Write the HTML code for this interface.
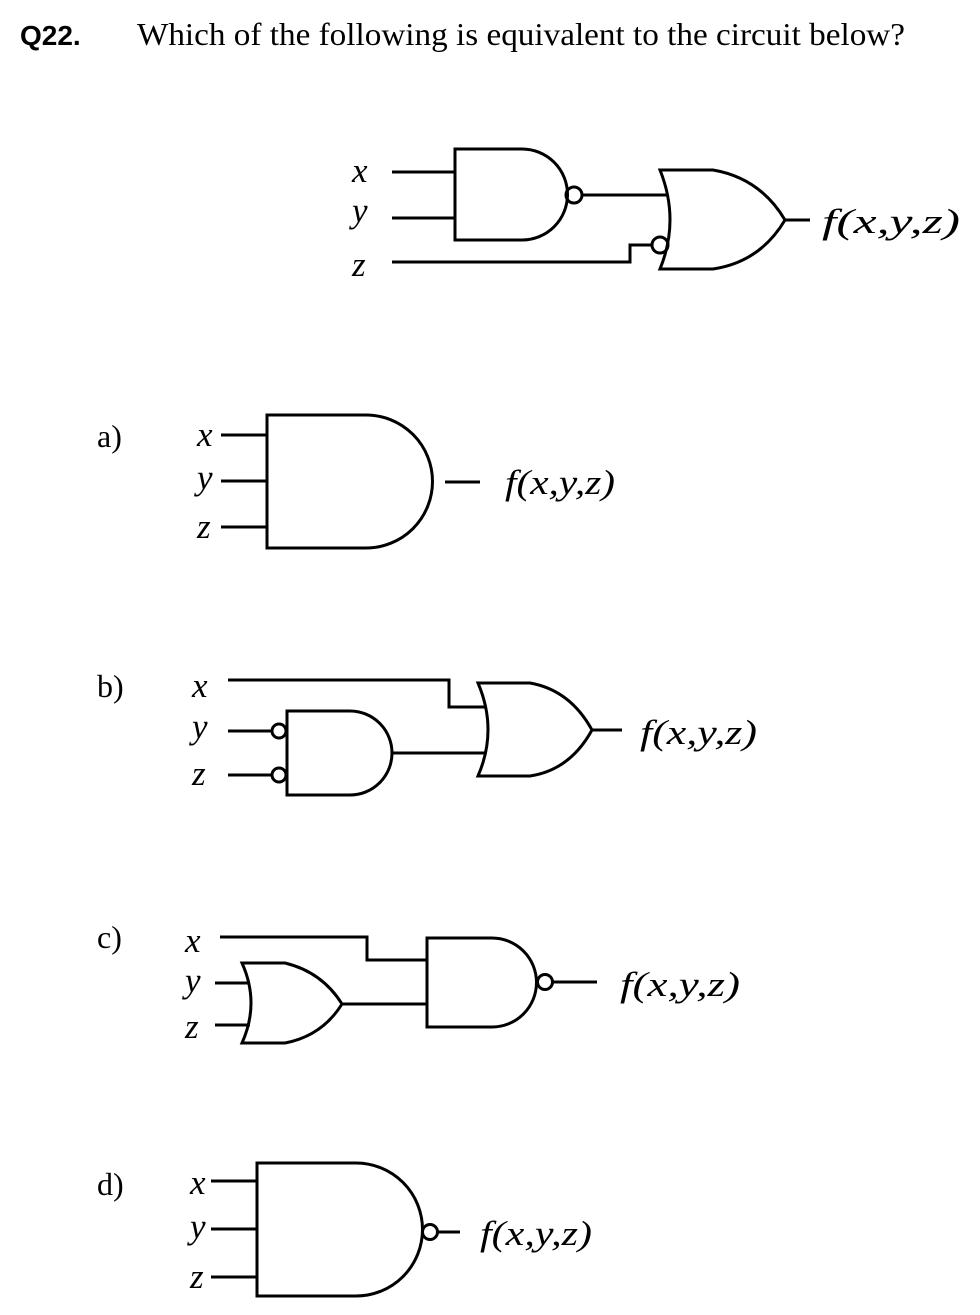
<!DOCTYPE html>
<html><head><meta charset="utf-8"><style>
html,body{margin:0;padding:0;background:#fff;width:980px;height:1315px;overflow:hidden}
svg{display:block}
.t{font-family:"Liberation Serif",serif;font-size:32px}
.i{font-family:"Liberation Serif",serif;font-style:italic;font-size:35px}
</style></head><body>
<svg width="980" height="1315" viewBox="0 0 980 1315" xmlns="http://www.w3.org/2000/svg">
<text x="20" y="45" style="font-family:'Liberation Sans',sans-serif;font-weight:bold;font-size:28px">Q22.</text>
<text x="137" y="45" class="t" textLength="768" lengthAdjust="spacingAndGlyphs">Which of the following is equivalent to the circuit below?</text>
<g fill="none" stroke="#000" stroke-width="3">
<!-- main -->
<path d="M455,149 H522 A45.5,45.5 0 0 1 522,240 H455 Z"/>
<line x1="392" y1="172" x2="455" y2="172"/><line x1="392" y1="218" x2="455" y2="218"/>
<circle cx="574" cy="195" r="8"/>
<line x1="582" y1="195" x2="667" y2="195"/>
<path d="M660,170 H713 Q760,178 785,220 Q760,262 713,269 H660 Q680,220 660,170 Z"/>
<polyline points="392,262 630,262 630,245 652,245"/>
<circle cx="660" cy="245" r="8"/>
<line x1="785" y1="220" x2="810" y2="220"/>
<!-- a -->
<path d="M267,415 H366 A66.5,66.5 0 0 1 366,548 H267 Z"/>
<line x1="221" y1="435" x2="267" y2="435"/><line x1="221" y1="481" x2="267" y2="481"/><line x1="221" y1="527" x2="267" y2="527"/>
<line x1="445" y1="482" x2="480" y2="482"/>
<!-- b -->
<polyline points="228,680 449,680 449,707 485,707"/>
<path d="M478,683 H530 Q570,690 592,730 Q570,770 530,776 H478 Q498,730 478,683 Z"/>
<path d="M287,711 H350 A42,42 0 0 1 350,795 H287 Z"/>
<circle cx="279" cy="731" r="7"/><circle cx="279" cy="775" r="7"/>
<line x1="228" y1="731" x2="272" y2="731"/><line x1="228" y1="775" x2="272" y2="775"/>
<line x1="392" y1="753" x2="485" y2="753"/>
<line x1="592" y1="730" x2="622" y2="730"/>
<!-- c -->
<polyline points="220,937 367,937 367,960 427,960"/>
<path d="M427,938 H492 A44.5,44.5 0 0 1 492,1027 H427 Z"/>
<circle cx="545" cy="982" r="7.5"/>
<line x1="553" y1="982" x2="597" y2="982"/>
<path d="M242,963 H285 Q322,972 342,1004 Q322,1036 285,1043 H242 Q260,1003 242,963 Z"/>
<line x1="342" y1="1004" x2="427" y2="1004"/>
<line x1="215" y1="983" x2="250" y2="983"/><line x1="215" y1="1025" x2="250" y2="1025"/>
<!-- d -->
<path d="M257,1163 H356 A66.5,66.5 0 0 1 356,1296 H257 Z"/>
<line x1="211" y1="1181" x2="257" y2="1181"/><line x1="211" y1="1229" x2="257" y2="1229"/><line x1="211" y1="1277" x2="257" y2="1277"/>
<circle cx="430" cy="1232" r="7.5"/>
<line x1="438" y1="1232" x2="460" y2="1232"/>
</g>
<g class="i">
<text x="352" y="182">x</text><text x="352" y="222">y</text><text x="352" y="276">z</text>
<text x="822" y="233" textLength="138" lengthAdjust="spacingAndGlyphs">f(x,y,z)</text>
<text x="197" y="446">x</text><text x="197" y="489">y</text><text x="197" y="538">z</text>
<text x="505" y="494" textLength="110" lengthAdjust="spacingAndGlyphs">f(x,y,z)</text>
<text x="192" y="697">x</text><text x="192" y="738">y</text><text x="192" y="785">z</text>
<text x="640" y="744" textLength="117" lengthAdjust="spacingAndGlyphs">f(x,y,z)</text>
<text x="185" y="952">x</text><text x="185" y="992">y</text><text x="185" y="1038">z</text>
<text x="620" y="996" textLength="120" lengthAdjust="spacingAndGlyphs">f(x,y,z)</text>
<text x="190" y="1194">x</text><text x="190" y="1238">y</text><text x="190" y="1288">z</text>
<text x="480" y="1245" textLength="112" lengthAdjust="spacingAndGlyphs">f(x,y,z)</text>
</g>
<g class="t">
<text x="97" y="447">a)</text><text x="97" y="697">b)</text><text x="97" y="948">c)</text><text x="97" y="1195">d)</text>
</g>
</svg>
</body></html>
